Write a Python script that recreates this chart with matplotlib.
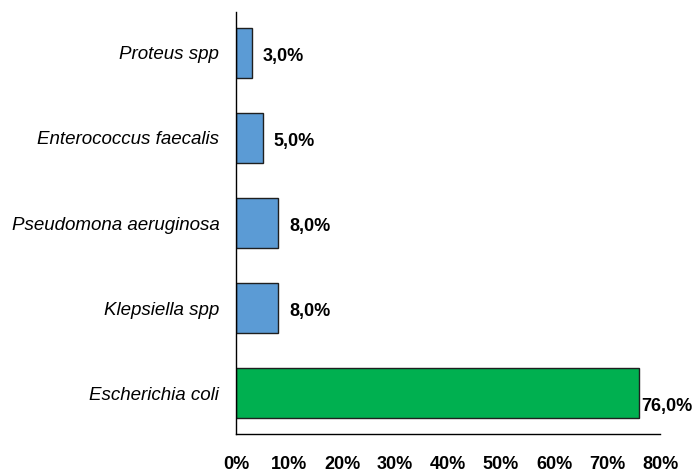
import matplotlib
matplotlib.use("Agg")
import matplotlib.pyplot as plt
from matplotlib.ticker import FuncFormatter

categories = ["Escherichia coli", "Klepsiella spp", "Pseudomona aeruginosa",
              "Enterococcus faecalis", "Proteus spp"]
values = [76.0, 8.0, 8.0, 5.0, 3.0]
colors = ["#00B050", "#5B9BD5", "#5B9BD5", "#5B9BD5", "#5B9BD5"]
xticks = [0, 10, 20, 30, 40, 50, 60, 70, 80]

plt.rcParams['font.family'] = ['Liberation Sans', 'DejaVu Sans']

fig = plt.figure(figsize=(6.97, 4.76), dpi=100)
ax = fig.add_axes([236/697, 42/476, (660-236)/697, (434-12)/476])

ypos = list(range(len(categories)))
ax.barh(ypos, values, height=0.58, color=colors, edgecolor="#1f1f1f", linewidth=1.0)

ax.set_xlim(0, 80)
ax.set_ylim(-0.48, 4.48)
ax.set_xticks(xticks)
ax.xaxis.set_major_formatter(FuncFormatter(lambda v, p: f"{int(v)}%"))
ax.set_yticks(ypos)
ax.set_yticklabels(categories, fontstyle="italic", fontsize=13.5)
for lab in ax.get_xticklabels():
    lab.set_fontweight("bold")
    lab.set_fontsize(13)
ax.tick_params(axis="both", length=0)
ax.tick_params(axis="x", pad=16)
ax.tick_params(axis="y", pad=12)

for s in ["top", "right"]:
    ax.spines[s].set_visible(False)
for s in ["left", "bottom"]:
    ax.spines[s].set_color("black")
    ax.spines[s].set_linewidth(1.0)

for y, v in zip(ypos, values):
    off = 1.5 if v > 70 else 8
    ax.annotate(f"{v:.1f}%".replace(".", ","), xy=(v, y), xytext=(off, -9.5 if v > 70 else -2.5),
                textcoords="offset points", va="center", ha="left",
                fontweight="bold", fontsize=13)

fig.savefig("out.png", dpi=100)
